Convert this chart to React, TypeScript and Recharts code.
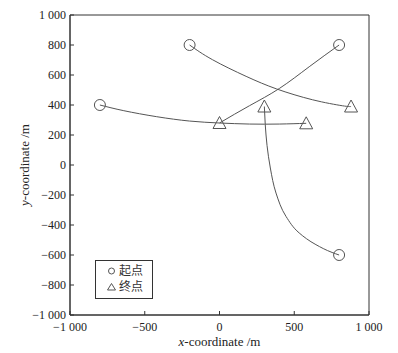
import React from 'react';
import { ComposedChart, Line, Scatter, XAxis, YAxis, ReferenceArea, Legend, Label } from 'recharts';

// Axis ticks
const xTicks = [-1000, -500, 0, 500, 1000];
const yTicks = [-1000, -800, -600, -400, -200, 0, 200, 400, 600, 800, 1000];

// Start points (circles)
const startX = [-800, -200, 800, 800];
const startY = [400, 800, 800, -600];

// End points (triangles)
const endX = [0, 580, 300, 880];
const endY = [280, 278, 390, 390];

// Trajectories
const pathAx = [-800, -640, -420, -200, 0, 200, 400, 580];
const pathAy = [400, 362, 322, 293, 280, 273, 273, 278];
const pathBx = [-200, -47, 178, 382, 622, 822, 880];
const pathBy = [800, 702, 591, 507, 435, 395, 390];
const pathCx = [800, 600, 400, 200, 0];
const pathCy = [800, 655, 510, 395, 280];
const pathDx = [800, 753, 645, 533, 445, 378, 340, 318, 306, 300];
const pathDy = [-600, -583, -531, -453, -343, -187, -20, 130, 270, 390];

const legendLabels = ['起点', '终点'];

const zip = (xs: number[], ys: number[]) => xs.map((x, i) => ({ x, y: ys[i] }));

const starts = zip(startX, startY);
const ends = zip(endX, endY);
const paths = [zip(pathAx, pathAy), zip(pathBx, pathBy), zip(pathCx, pathCy), zip(pathDx, pathDy)];
const curveTypes: any[] = ['natural', 'natural', 'natural', 'monotoneY'];

const SERIF = '"Liberation Serif", "Times New Roman", serif';
const AXIS = '#333';
const MARK = '#555';

const fmt = (v: number) => {
  const a = Math.abs(v);
  const s = a >= 1000 ? `${Math.floor(a / 1000)} ${String(a % 1000).padStart(3, '0')}` : String(a);
  return (v < 0 ? '\u2212' : '') + s;
};

const YTick = (props: any) => {
  const { x, y, payload } = props;
  const ax = x + 4;
  return (
    <g>
      <line x1={ax} x2={ax + 4} y1={y} y2={y} stroke={AXIS} />
      <text x={x} y={y} dy="0.35em" textAnchor="end" fontFamily={SERIF} fontSize={12} fill="#222">
        {fmt(payload.value)}
      </text>
    </g>
  );
};

const XTick = (props: any) => {
  const { x, y, payload } = props;
  const ay = y - 7;
  return (
    <g>
      <line x1={x} x2={x} y1={ay} y2={ay - 4} stroke={AXIS} />
      <text x={x} y={y} dy="0.71em" textAnchor="middle" fontFamily={SERIF} fontSize={12} fill="#222">
        {fmt(payload.value)}
      </text>
    </g>
  );
};

const CircleShape = (props: any) => {
  const { cx, cy } = props;
  return <circle cx={cx} cy={cy} r={5.5} fill="none" stroke={MARK} strokeWidth={1} />;
};

const TriangleShape = (props: any) => {
  const { cx, cy } = props;
  const pts = `${cx},${cy - 6.5} ${cx - 6.5},${cy + 5.5} ${cx + 6.5},${cy + 5.5}`;
  return <polygon points={pts} fill="none" stroke={MARK} strokeWidth={1} />;
};

const LegendBox = () => (
  <div
    style={{
      width: 58,
      height: 39,
      border: `1px solid ${AXIS}`,
      boxSizing: 'border-box',
      background: '#fff',
      position: 'relative',
    }}
  >
    <svg width={56} height={37} style={{ position: 'absolute', left: 0, top: 0 }}>
      <circle cx={15.5} cy={10} r={3} fill="none" stroke={MARK} />
      <polygon points="15.5,22.5 11.5,29 19.5,29" fill="none" stroke={MARK} />
      <text x={23} y={10} dy="0.36em" fontFamily='"Noto Sans CJK SC", sans-serif' fontSize={12} fill="#333">
        {legendLabels[0]}
      </text>
      <text x={23} y={26} dy="0.36em" fontFamily='"Noto Sans CJK SC", sans-serif' fontSize={12} fill="#333">
        {legendLabels[1]}
      </text>
    </svg>
  </div>
);

const XTitle = (props: any) => {
  const vb = props.viewBox || { x: 70, y: 315, width: 300, height: 38 };
  const cx = vb.x + vb.width / 2;
  return (
    <text x={cx} y={vb.y + 31} textAnchor="middle" fontFamily={SERIF} fontSize={13} fill="#222">
      <tspan fontStyle="italic">x</tspan>-coordinate /m
    </text>
  );
};

const YTitle = (props: any) => {
  const vb = props.viewBox || { x: 0, y: 15, width: 70, height: 300 };
  const cy = vb.y + vb.height / 2;
  const tx = 29;
  return (
    <text x={tx} y={cy} textAnchor="middle" fontFamily={SERIF} fontSize={13} fill="#222" transform={`rotate(-90, ${tx}, ${cy})`}>
      <tspan fontStyle="italic">y</tspan>-coordinate /m
    </text>
  );
};

export default function App() {
  return (
    <div style={{ position: 'absolute', left: 0, top: 0, background: '#fff' }}>
      <ComposedChart width={398} height={353} margin={{ top: 15, right: 29, bottom: 0, left: 0 }}>
        <XAxis
          type="number"
          dataKey="x"
          domain={[-1000, 1000]}
          ticks={xTicks}
          interval={0}
          height={38}
          tickSize={0}
          tickMargin={7}
          tickLine={false}
          axisLine={{ stroke: AXIS }}
          tick={<XTick />}
        >
          <Label content={<XTitle />} />
        </XAxis>
        <YAxis
          type="number"
          dataKey="y"
          domain={[-1000, 1000]}
          ticks={yTicks}
          interval={0}
          width={70}
          tickSize={0}
          tickMargin={4}
          tickLine={false}
          axisLine={{ stroke: AXIS }}
          tick={<YTick />}
        >
          <Label content={<YTitle />} />
        </YAxis>
        <ReferenceArea x1={-1000} x2={1000} y1={-1000} y2={1000} fill="none" fillOpacity={0} stroke={AXIS} strokeWidth={1} />
        {paths.map((p, i) => (
          <Line
            key={i}
            data={p}
            dataKey="y"
            type={curveTypes[i]}
            stroke={MARK}
            strokeWidth={1}
            dot={false}
            activeDot={false}
            isAnimationActive={false}
            legendType="none"
          />
        ))}
        <Scatter data={starts} dataKey="y" shape={<CircleShape />} isAnimationActive={false} />
        <Scatter data={ends} dataKey="y" shape={<TriangleShape />} isAnimationActive={false} />
        <Legend
          content={<LegendBox />}
          layout="vertical"
          align="center"
          verticalAlign="middle"
          wrapperStyle={{ left: 95, top: 260, width: 58, height: 39 }}
        />
      </ComposedChart>
    </div>
  );
}
